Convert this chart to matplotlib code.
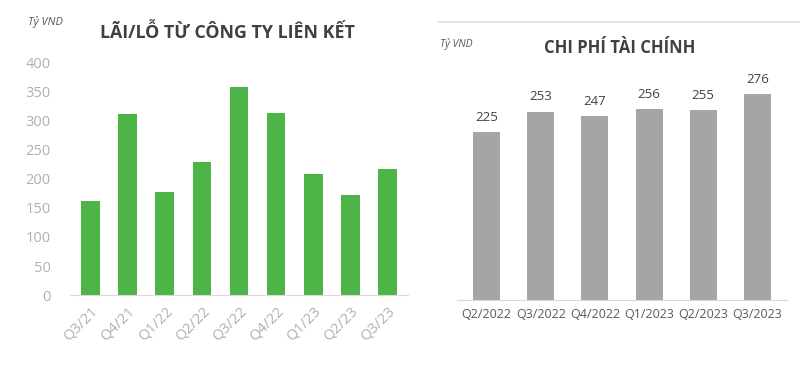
import matplotlib.pyplot as plt

# Data
lai_lo_quarters = ['Q3/21', 'Q4/21', 'Q1/22', 'Q2/22', 'Q3/22', 'Q4/22', 'Q1/23', 'Q2/23', 'Q3/23']
lai_lo_values = [161, 311, 177, 228, 357, 312, 208, 172, 217]

chi_phi_quarters = ['Q2/2022', 'Q3/2022', 'Q4/2022', 'Q1/2023', 'Q2/2023', 'Q3/2023']
chi_phi_values = [225, 253, 247, 256, 255, 276]

plt.rcParams['font.family'] = ['Open Sans', 'DejaVu Sans']

fig = plt.figure(figsize=(8, 3.68), dpi=100)
fig.patch.set_facecolor('white')

# Left chart: Lai/lo tu cong ty lien ket
ax1 = fig.add_axes([0.0875, 0.198, 0.4225, 0.633])
ax1.bar(range(len(lai_lo_values)), lai_lo_values, width=0.5, color='#4DB548')
ax1.set_ylim(0, 400)
ax1.set_xlim(-0.55, len(lai_lo_values) - 0.45)
ax1.set_yticks(range(0, 401, 50))
ax1.set_xticks(range(len(lai_lo_quarters)))
ax1.set_xticklabels(lai_lo_quarters, rotation=45, ha='right', rotation_mode='anchor')
ax1.tick_params(axis='both', colors='#B0B0B0', labelsize=10.5, length=0)
ax1.tick_params(axis='y', pad=14)
ax1.tick_params(axis='x', pad=6)
for s in ['top', 'right', 'left']:
    ax1.spines[s].set_visible(False)
ax1.spines['bottom'].set_color('#D9D9D9')

fig.text(227 / 800, 1 - 33 / 368, 'LÃI/LỖ TỪ CÔNG TY LIÊN KẾT', ha='center', va='center',
         fontsize=12.8, fontweight='bold', color='#404040')
fig.text(28 / 800, 1 - 22 / 368, 'Tỷ VND', ha='left', va='center', fontsize=8,
         style='italic', color='#595959')

# Right chart: Chi phi tai chinh
ax2 = fig.add_axes([0.571, 0.185, 0.413, 0.607])
bars = ax2.bar(range(len(chi_phi_values)), chi_phi_values, width=0.5, color='#A5A5A5')
ax2.set_ylim(0, 300)
ax2.set_xlim(-0.55, len(chi_phi_values) - 0.45)
ax2.set_yticks([])
ax2.set_xticks(range(len(chi_phi_quarters)))
ax2.set_xticklabels(chi_phi_quarters)
ax2.tick_params(axis='x', colors='#595959', labelsize=9, length=0, pad=6)
for s in ['top', 'right', 'left']:
    ax2.spines[s].set_visible(False)
ax2.spines['bottom'].set_color('#D9D9D9')
for b, v in zip(bars, chi_phi_values):
    ax2.annotate(str(v), (b.get_x() + b.get_width() / 2, v), xytext=(0, 6),
                 textcoords='offset points', ha='center', va='bottom',
                 fontsize=9.5, color='#404040')

fig.text(620 / 800, 1 - 48 / 368, 'CHI PHÍ TÀI CHÍNH', ha='center', va='center',
         fontsize=12, fontweight='bold', color='#404040')
fig.text(440 / 800, 1 - 44 / 368, 'Tỷ VND', ha='left', va='center', fontsize=7.5,
         style='italic', color='#595959')

# thin line on top of the right panel
fig.add_artist(plt.Line2D([438 / 800, 1.0], [1 - 22 / 368, 1 - 22 / 368],
                          color='#E0E0E0', linewidth=1.2))

fig.savefig('out.png', dpi=100)
